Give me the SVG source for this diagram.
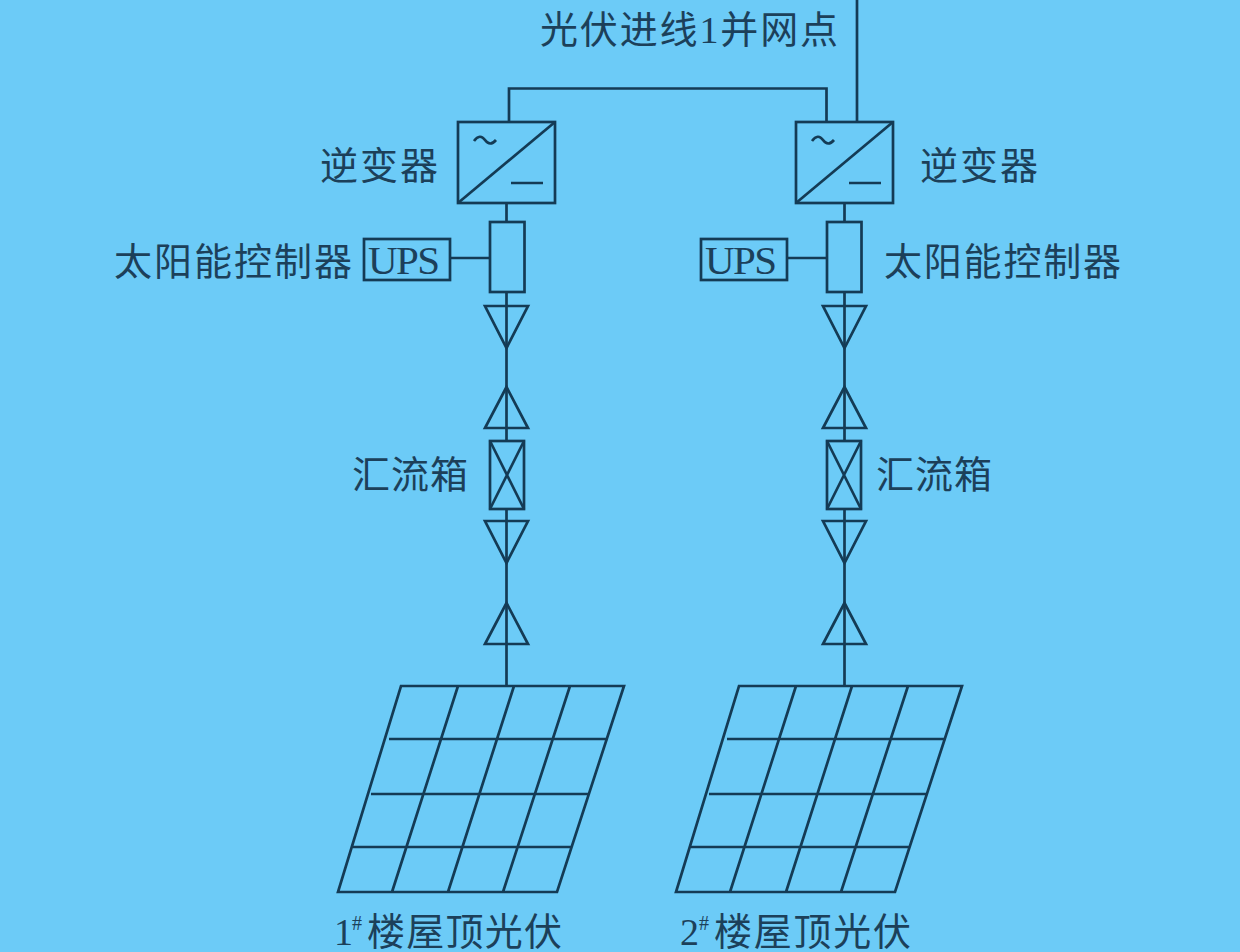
<svg xmlns="http://www.w3.org/2000/svg" width="1240" height="952" viewBox="0 0 1240 952">
<style>
.l{fill:none;stroke:#143b55;stroke-width:2.7}
.box{fill:#6ccbf7;stroke:#143b55;stroke-width:2.7}
.t{font-family:"Liberation Serif","Noto Sans CJK SC",sans-serif;font-size:38px;fill:#1c405a}
.u{font-size:41px}
.s{font-size:20px}
</style>
<defs>
<g id="down"><polygon class="l" points="-21.5,0 21.5,0 0,42"/></g>
<g id="up"><polygon class="l" points="-21.5,0 21.5,0 0,-41"/></g>
<g id="grid"><path class="l" d="M63,0H286L219,206H0ZM120,0L54,206M176,0L110,206M232,0L165,206M51,53H270M33,108H251M15,161H233"/></g>
<g id="inv"><rect class="l" width="97" height="81"/><path class="l" d="M0,81L97,0"/></g>
</defs>
<rect width="1240" height="952" fill="#6ccbf7"/>
<g id="connectors">
<path class="l" d="M509,122V88.500H826.500V122M857,0V122"/>
<path class="l" d="M506.500,203V222M506.500,292V686M450,258H490"/>
<path class="l" d="M844.500,203V222M844.500,292V686M787,258H827"/>
</g>
<g id="inverter-1"><use href="#inv" x="458" y="122"/><path class="l" d="M474,141Q480,133 485,140T496,140M511,183H543"/><text class="t" x="320" y="179" textLength="118">逆变器</text></g>
<g id="inverter-2"><use href="#inv" x="796" y="122"/><path class="l" d="M812,141Q818,133 823,140T834,140M849,183H881"/><text class="t" x="920" y="179" textLength="118">逆变器</text></g>
<g id="grid-point"><text class="t" x="540" y="43" textLength="298">光伏进线1并网点</text></g>
<g id="controller-1"><rect class="l" x="490" y="222" width="34.500" height="70"/><text class="t" x="114" y="275" textLength="238">太阳能控制器</text></g>
<g id="controller-2"><rect class="l" x="827" y="222" width="34.500" height="70"/><text class="t" x="884" y="275" textLength="237">太阳能控制器</text></g>
<g id="ups-1"><rect class="l" x="364" y="239" width="86" height="41"/><text class="t u" x="368" y="274" textLength="72">UPS</text></g>
<g id="ups-2"><rect class="l" x="701" y="239" width="86" height="41"/><text class="t u" x="705" y="274" textLength="72">UPS</text></g>
<g id="surge-1"><use href="#down" x="506.500" y="306"/><use href="#up" x="506.500" y="428"/><use href="#down" x="506.500" y="521"/><use href="#up" x="506.500" y="644"/></g>
<g id="surge-2"><use href="#down" x="844.500" y="306"/><use href="#up" x="844.500" y="428"/><use href="#down" x="844.500" y="521"/><use href="#up" x="844.500" y="644"/></g>
<g id="combiner-1"><rect class="box" x="490" y="441" width="34" height="68"/><path class="l" d="M490,441L524,509M524,441L490,509"/><text class="t" x="352" y="488" textLength="116">汇流箱</text></g>
<g id="combiner-2"><rect class="box" x="827" y="441" width="34" height="68"/><path class="l" d="M827,441L861,509M861,441L827,509"/><text class="t" x="876" y="488" textLength="116">汇流箱</text></g>
<g id="pv-1"><use href="#grid" x="338" y="686"/><text class="t" x="334" y="945">1</text><text class="t s" x="352" y="930">#</text><text class="t" x="367" y="945" textLength="195">楼屋顶光伏</text></g>
<g id="pv-2"><use href="#grid" x="676" y="686"/><text class="t" x="680" y="945">2</text><text class="t s" x="699" y="930">#</text><text class="t" x="714" y="945" textLength="197">楼屋顶光伏</text></g>
</svg>
